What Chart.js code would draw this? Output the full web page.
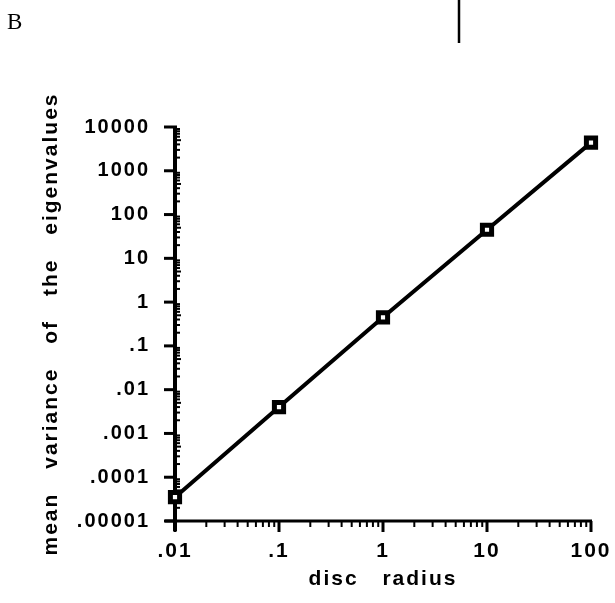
<!DOCTYPE html>
<html>
<head>
<meta charset="utf-8">
<script src="https://cdn.jsdelivr.net/npm/chart.js@4.4.1/dist/chart.umd.min.js"></script>
<style>
  html, body { margin: 0; padding: 0; background: #fff; }
  #wadah { width: 615px; height: 603px; }
</style>
</head>
<body>
<div id="wadah"><canvas id="grafik"></canvas></div>
<script>
// data
const discRadius = [0.01, 0.1, 1, 10, 100]
const meanVariance = [0.000035, 0.004, 0.45, 45, 4400]
const xTickValues = [0.01, 0.1, 1, 10, 100]
const xTickLabels = ['.01', '.1', '1', '10', '100']
const yTickValues = [0.00001, 0.0001, 0.001, 0.01, 0.1, 1, 10, 100, 1000, 10000]
const yTickLabels = ['.00001', '.0001', '.001', '.01', '.1', '1', '10', '100', '1000', '10000']

// cari label untuk pangkat sepuluh
const labelDari = (nilai, values, labels) => {
    const lg = Math.log10(nilai)
    if (Math.abs(lg - Math.round(lg)) > 1e-6) return ''
    const i = values.findIndex(v => Math.abs(Math.log10(v) - lg) < 1e-6)
    return i >= 0 ? labels[i] : ''
}

// sumbu tebal dan garis tick buatan sendiri
const pluginSumbu = {
    id: 'sumbu',
    beforeDraw(chart) {
        chart.ctx.letterSpacing = '2px'
        chart.ctx.wordSpacing = '16px'
    },
    beforeDatasetsDraw(chart) {
        const ctx = chart.ctx
        const xs = chart.scales.x
        const ys = chart.scales.y
        const area = chart.chartArea
        ctx.save()
        ctx.strokeStyle = '#000'
        ctx.lineCap = 'butt'

        // garis sumbu
        ctx.lineWidth = 4
        ctx.beginPath()
        ctx.moveTo(area.left, area.top)
        ctx.lineTo(area.left, area.bottom + 10)
        ctx.stroke()
        ctx.lineWidth = 3
        ctx.beginPath()
        ctx.moveTo(area.left - 10, area.bottom)
        ctx.lineTo(area.right + 1, area.bottom)
        ctx.stroke()

        // tick sumbu y
        for (let e = -5; e <= 4; e++) {
            const py = ys.getPixelForValue(Math.pow(10, e))
            ctx.lineWidth = 3
            ctx.beginPath()
            ctx.moveTo(area.left - 11, py)
            ctx.lineTo(area.left + 2, py)
            ctx.stroke()
            if (e === 4) continue
            for (let m = 2; m <= 9; m++) {
                const pm = ys.getPixelForValue(m * Math.pow(10, e))
                ctx.lineWidth = 2
                ctx.beginPath()
                ctx.moveTo(area.left, pm)
                ctx.lineTo(area.left + (m === 5 ? 6 : 5), pm)
                ctx.stroke()
            }
        }

        // tick sumbu x
        for (let e = -2; e <= 2; e++) {
            const px = xs.getPixelForValue(Math.pow(10, e))
            ctx.lineWidth = 3
            ctx.beginPath()
            ctx.moveTo(px, area.bottom)
            ctx.lineTo(px, area.bottom + 11)
            ctx.stroke()
            if (e === 2) continue
            for (let m = 2; m <= 9; m++) {
                const pm = xs.getPixelForValue(m * Math.pow(10, e))
                ctx.lineWidth = 2
                ctx.beginPath()
                ctx.moveTo(pm, area.bottom)
                ctx.lineTo(pm, area.bottom + 6)
                ctx.stroke()
            }
        }
        ctx.restore()
    },
    afterDraw(chart) {
        const ctx = chart.ctx
        ctx.save()
        ctx.letterSpacing = '0px'
        ctx.wordSpacing = '0px'
        // huruf panel
        ctx.fillStyle = '#000'
        ctx.font = '23px "Liberation Serif"'
        ctx.textBaseline = 'alphabetic'
        ctx.fillText('B', 7, 29)
        // garis tegak di atas
        ctx.strokeStyle = '#000'
        ctx.lineWidth = 2.5
        ctx.beginPath()
        ctx.moveTo(459, 0)
        ctx.lineTo(459, 43)
        ctx.stroke()
        ctx.restore()
    }
}

const ctx = document.getElementById('grafik').getContext('2d')
let grafik = new Chart(ctx, {
    type: 'scatter',
    data: {
        datasets: [{
            label: 'mean variance',
            data: discRadius.map((r, i) => ({ x: r, y: meanVariance[i] })),
            showLine: true,
            borderColor: '#000',
            borderWidth: 4,
            pointStyle: 'rect',
            pointRadius: 6.5,
            pointBorderWidth: 5,
            pointBackgroundColor: '#fff',
            pointBorderColor: '#000',
            clip: false
        }]
    },
    options: {
        responsive: true,
        maintainAspectRatio: false,
        animation: false,
        layout: {
            padding: { left: 0, top: 127, right: 24, bottom: 0 }
        },
        plugins: {
            legend: { display: false },
            tooltip: { enabled: false }
        },
        scales: {
            x: {
                type: 'logarithmic',
                min: 0.01,
                max: 100,
                grid: { display: false, drawTicks: false },
                border: { display: false },
                afterFit: (s) => {
                    s.height = 82
                    s.paddingLeft = 0
                    s.paddingRight = 0
                },
                ticks: {
                    autoSkip: false,
                    maxRotation: 0,
                    padding: 18,
                    color: '#000',
                    font: { family: 'Liberation Sans', size: 21, weight: 'bold' },
                    callback: (v) => labelDari(v, xTickValues, xTickLabels)
                },
                title: {
                    display: true,
                    text: 'disc radius',
                    color: '#000',
                    font: { family: 'Liberation Sans', size: 21, weight: 'bold' },
                    padding: { top: 0, bottom: 11 }
                }
            },
            y: {
                type: 'logarithmic',
                min: 0.00001,
                max: 10000,
                grid: { display: false, drawTicks: false },
                border: { display: false },
                afterFit: (s) => { s.width = 175 },
                ticks: {
                    autoSkip: false,
                    padding: 25,
                    color: '#000',
                    font: { family: 'Liberation Sans', size: 20, weight: 'bold' },
                    callback: (v) => labelDari(v, yTickValues, yTickLabels)
                },
                title: {
                    display: true,
                    text: 'mean variance of the eigenvalues',
                    color: '#000',
                    font: { family: 'Liberation Sans', size: 21, weight: 'bold' },
                    padding: { top: 39, bottom: 0 }
                }
            }
        }
    },
    plugins: [pluginSumbu]
})
</script>
</body>
</html>
